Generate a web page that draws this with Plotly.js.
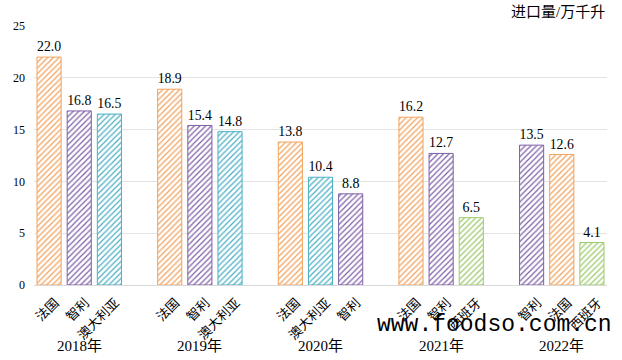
<!DOCTYPE html>
<html>
<head>
<meta charset="utf-8">
<script src="https://cdn.plot.ly/plotly-3.0.1.min.js"></script>
<style>html,body{margin:0;padding:0;background:#fff;}#chart{width:622px;height:360px;}</style>
</head>
<body>
<div id="chart"></div>
<script>
// ---- data ----
const years = ['2018年', '2019年', '2020年', '2021年', '2022年'];
const groupCountries = [
  ['法国', '智利', '澳大利亚'],
  ['法国', '智利', '澳大利亚'],
  ['法国', '澳大利亚', '智利'],
  ['法国', '智利', '西班牙'],
  ['智利', '法国', '西班牙']
];
const groupValues = [
  [22.0, 16.8, 16.5],
  [18.9, 15.4, 14.8],
  [13.8, 10.4, 8.8],
  [16.2, 12.7, 6.5],
  [13.5, 12.6, 4.1]
];
const countries = ['法国', '智利', '澳大利亚', '西班牙'];
const colors = {'法国': '#F2A25C', '智利': '#7E5FA6', '澳大利亚': '#4AAFC4', '西班牙': '#9CCB6B'};
const yTicks = [0, 5, 10, 15, 20, 25];
const yTitle = '进口量/万千升';
const watermark = 'www.foodso.com.cn';

// ---- build ----
const serif = 'Liberation Serif, Noto Sans CJK SC, serif';
const slotsPerGroup = 4;
const tickvals = [], ticktext = [];
const traces = countries.map(c => ({type: 'bar', name: c, x: [], y: [], showlegend: false,
  marker: {color: 'white', line: {color: colors[c], width: 1},
    pattern: {shape: '/', fgcolor: colors[c], bgcolor: 'white', size: 4, solidity: 0.3}},
  texttemplate: '%{y:.1f}', textposition: 'outside', cliponaxis: false,
  textfont: {family: serif, size: 14, color: '#000'}, hoverinfo: 'skip'}));
groupCountries.forEach((g, gi) => {
  g.forEach((c, j) => {
    const pos = gi * slotsPerGroup + j;
    const t = traces[countries.indexOf(c)];
    t.x.push(pos); t.y.push(groupValues[gi][j]);
    tickvals.push(pos); ticktext.push(c);
  });
});

const annotations = years.map((yr, gi) => ({
  text: yr, xref: 'x', yref: 'paper', x: gi * slotsPerGroup + 1, y: 0,
  yanchor: 'middle', yshift: -61, showarrow: false,
  font: {family: serif, size: 15, color: '#000'}
}));
annotations.push({text: yTitle, xref: 'paper', yref: 'paper', x: 1, y: 1, xanchor: 'right',
  yanchor: 'middle', yshift: 14, showarrow: false, font: {family: serif, size: 15, color: '#000'}});
annotations.push({text: watermark, xref: 'paper', yref: 'paper', x: 0.595, y: 0, xanchor: 'left',
  yanchor: 'middle', yshift: -40, showarrow: false,
  font: {family: 'Liberation Mono, DejaVu Sans Mono, monospace', size: 23, color: '#000'}});

const layout = {
  width: 622, height: 360,
  margin: {l: 34, r: 15, t: 26, b: 75},
  paper_bgcolor: '#fff', plot_bgcolor: '#fff',
  bargap: 0.2,
  xaxis: {range: [-0.5, 18.5], tickvals: tickvals, ticktext: ticktext, tickangle: -45,
    showgrid: false, zeroline: false, showline: true, linecolor: '#D9D9D9', linewidth: 1,
    ticks: '', ticklabelstandoff: 4, ticklabelshift: 6,
    tickfont: {family: serif, size: 13, color: '#000'}},
  yaxis: {range: [0, 25], tickvals: yTicks, showgrid: true, gridcolor: '#E3E3E3', gridwidth: 1,
    zeroline: false, showline: false, ticks: '', ticklabelstandoff: 8,
    tickfont: {family: serif, size: 12, color: '#000'}},
  annotations: annotations
};
Plotly.newPlot('chart', traces, layout, {staticPlot: true, displayModeBar: false});
</script>
</body>
</html>
